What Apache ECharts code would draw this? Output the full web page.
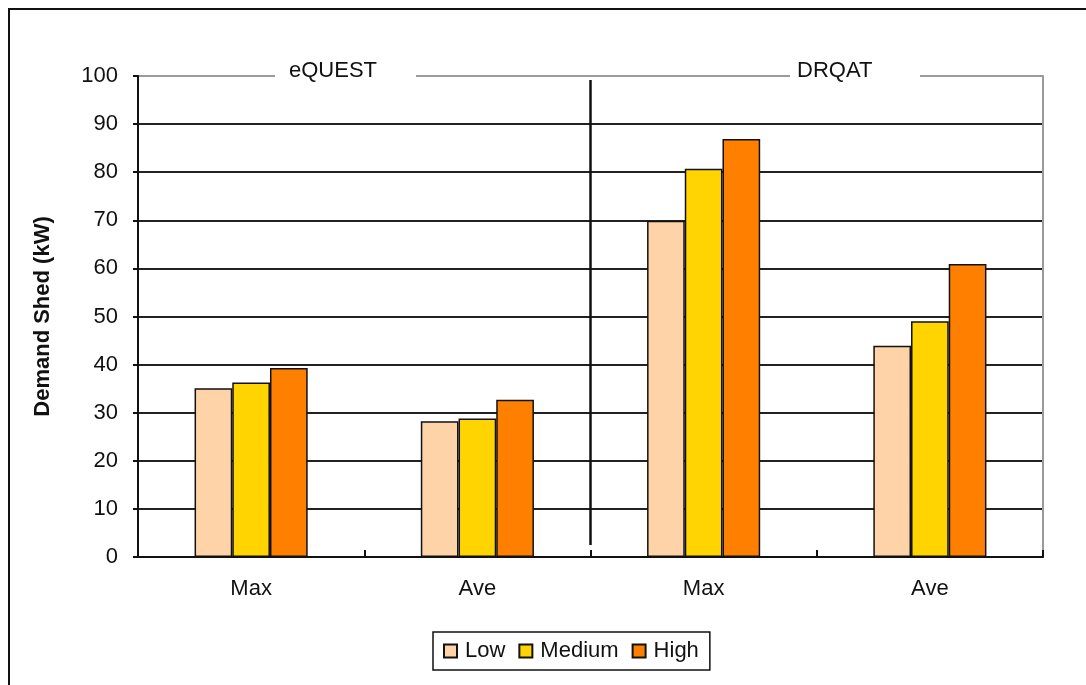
<!DOCTYPE html>
<html>
<head>
<meta charset="utf-8">
<script src="https://cdn.jsdelivr.net/npm/echarts@6/dist/echarts.min.js"></script>
<style>
html,body{margin:0;padding:0;background:#fff;}
#chart{width:1086px;height:685px;}
</style>
</head>
<body>
<div id="chart"></div>
<script>
var categories = ['Max', 'Ave', 'Max', 'Ave'];
var groupLabels = ['eQUEST', 'DRQAT'];
var seriesNames = ['Low', 'Medium', 'High'];
var lowValues = [35.1, 28.2, 69.9, 43.9];
var mediumValues = [36.3, 28.8, 80.7, 49.0];
var highValues = [39.3, 32.7, 86.9, 60.9];
var seriesColors = ['#FFD3A8', '#FFD400', '#FF8000'];
var yTicks = [0, 10, 20, 30, 40, 50, 60, 70, 80, 90, 100];

var FONT = '"Liberation Sans", Arial, sans-serif';
var chart = echarts.init(document.getElementById('chart'), null, {renderer: 'canvas'});

var values = [lowValues, mediumValues, highValues];
var series = seriesNames.map(function (n, i) {
  return {
    name: n,
    type: 'bar',
    data: values[i],
    barGap: '0%',
    barCategoryGap: '50%',
    itemStyle: {color: seriesColors[i], borderColor: '#111', borderWidth: 1.5},
    emphasis: {disabled: true}
  };
});

var splitColors = yTicks.map(function (v, i) { return i === yTicks.length - 1 ? '#9a9a9a' : '#222'; });

chart.setOption({
  animation: false,
  backgroundColor: '#fff',
  grid: {left: 138, right: 43, top: 76, bottom: 128},
  legend: {
    data: seriesNames,
    left: 433, top: 632,
    orient: 'horizontal',
    icon: 'rect',
    itemWidth: 13, itemHeight: 13,
    itemGap: 13,
    padding: [8, 11, 8, 10],
    borderColor: '#111', borderWidth: 1.5,
    textStyle: {fontFamily: FONT, fontSize: 22, color: '#111', padding: [0, 0, 0, 3]},
    selectedMode: false
  },
  xAxis: [{
    type: 'category',
    data: categories,
    axisLine: {show: true, lineStyle: {color: '#111', width: 2}},
    axisTick: {show: true, inside: true, length: 7, lineStyle: {color: '#111', width: 2}},
    axisLabel: {fontFamily: FONT, fontSize: 22, color: '#111', margin: 21},
    splitLine: {show: false}
  }],
  yAxis: [{
    type: 'value',
    min: 0, max: 100, interval: 10,
    name: 'Demand Shed (kW)',
    nameLocation: 'middle',
    nameGap: 84,
    nameRotate: 90,
    nameTextStyle: {fontFamily: FONT, fontSize: 22, fontWeight: 'bold', color: '#111'},
    axisLine: {show: true, lineStyle: {color: '#111', width: 2}},
    axisTick: {show: true, length: 5, lineStyle: {color: '#111', width: 2}},
    axisLabel: {fontFamily: FONT, fontSize: 22, color: '#111', margin: 20},
    splitLine: {show: true, lineStyle: {color: splitColors, width: 2}}
  }, {
    type: 'value',
    position: 'right',
    min: 0, max: 100, interval: 10,
    axisLine: {show: true, lineStyle: {color: '#9a9a9a', width: 2}},
    axisTick: {show: false},
    axisLabel: {show: false},
    splitLine: {show: false}
  }],
  series: series
});

// Decorations: outer frame, group labels over the top line, and divider
var x1 = chart.convertToPixel({xAxisIndex: 0}, 1);
var x2 = chart.convertToPixel({xAxisIndex: 0}, 2);
var xDiv = (x1 + x2) / 2;
var yTop = chart.convertToPixel({yAxisIndex: 0}, 100);
var yBot = chart.convertToPixel({yAxisIndex: 0}, 0);

chart.setOption({
  graphic: [
    {type: 'rect', shape: {x: 9, y: 9, width: 1200, height: 1000}, style: {fill: 'none', stroke: '#111', lineWidth: 2}, silent: true, z: 100},
    {type: 'rect', shape: {x: 275, y: yTop - 4, width: 141, height: 8}, style: {fill: '#fff'}, silent: true, z: 50},
    {type: 'rect', shape: {x: 790, y: yTop - 4, width: 130, height: 8}, style: {fill: '#fff'}, silent: true, z: 50},
    {type: 'text', x: 289, y: yTop - 5, style: {text: groupLabels[0], font: '22px ' + FONT, fill: '#111', verticalAlign: 'middle'}, silent: true, z: 51},
    {type: 'text', x: 797, y: yTop - 5, style: {text: groupLabels[1], font: '22px ' + FONT, fill: '#111', verticalAlign: 'middle'}, silent: true, z: 51},
    {type: 'line', shape: {x1: xDiv, y1: yTop + 4, x2: xDiv, y2: yBot - 12}, style: {stroke: '#111', lineWidth: 2.5}, silent: true, z: 60}
  ]
});
</script>
</body>
</html>
